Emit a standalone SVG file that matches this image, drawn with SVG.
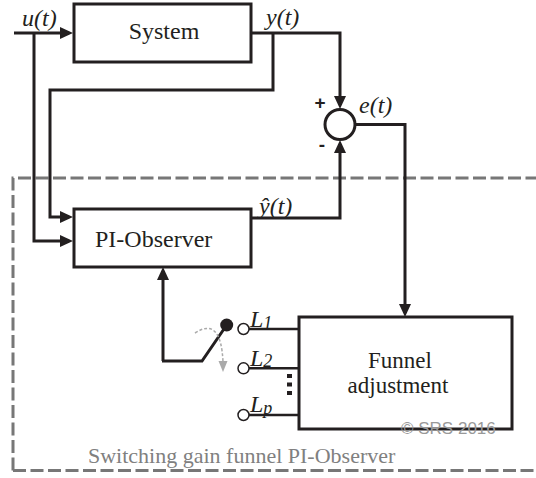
<svg xmlns="http://www.w3.org/2000/svg" width="536" height="478" viewBox="0 0 536 478">
<style>
.box{fill:#fff;stroke:#231f20;stroke-width:3}
.ln{fill:none;stroke:#231f20;stroke-width:3}
.thin{fill:none;stroke:#231f20;stroke-width:2.5}
.t{font-family:"Liberation Serif","Times New Roman",serif;fill:#231f20}
.it{font-family:"Liberation Serif","Times New Roman",serif;font-style:italic;fill:#231f20}
.sg{font-family:"Liberation Sans",Arial,sans-serif;font-weight:bold;fill:#231f20}
.term{fill:#fff;stroke:#231f20;stroke-width:1.5}
</style>
<defs>
<marker id="ah" markerWidth="13" markerHeight="12" refX="9" refY="6" orient="auto" markerUnits="userSpaceOnUse"><path d="M0,0 L13,6 L0,12 Z" fill="#231f20"/></marker>
</defs>
<g id="frame">
<path d="M13,470.5 V178 H540 M13,470.5 H540" fill="none" stroke="#777" stroke-width="3" stroke-dasharray="13,4.5"/>
<text x="88" y="463" class="t" font-size="22" style="fill:#808080">Switching gain funnel PI-Observer</text>
</g>
<g id="connectors">
<path class="ln" d="M14,33 H69" marker-end="url(#ah)"/>
<path class="ln" d="M34,33 V241 H69" marker-end="url(#ah)"/>
<path class="ln" d="M251,33 H340 V105" marker-end="url(#ah)"/>
<path class="ln" d="M273,33 V90 H50 V217 H69" marker-end="url(#ah)"/>
<path class="ln" d="M251,218 H340 V144" marker-end="url(#ah)"/>
<path class="ln" d="M355,124.5 H405 V313" marker-end="url(#ah)"/>
<path class="ln" d="M163,361 V271" marker-end="url(#ah)"/>
<path class="ln" d="M162,361 H202 L226.7,325"/>
<circle cx="226.7" cy="325" r="6.5" fill="#231f20"/>
<path class="thin" d="M249,329 H299 M249,368.3 H299 M249,415 H299"/>
<path d="M195,333 Q221,316 223,362" fill="none" stroke="#aaa" stroke-width="1.5" stroke-dasharray="3,2"/>
<polygon points="218.5,361 227.5,361 223,372" fill="#aaa"/>
<rect x="287" y="374" width="5" height="4" fill="#231f20"/>
<rect x="287" y="382.5" width="5" height="4" fill="#231f20"/>
<rect x="287" y="391" width="5" height="4" fill="#231f20"/>
</g>
<g id="system">
<rect class="box" x="74" y="4" width="177" height="58"/>
<text x="164" y="39" class="t" font-size="24" text-anchor="middle">System</text>
</g>
<g id="sum">
<circle cx="340" cy="124.5" r="15" fill="#fff" stroke="#231f20" stroke-width="3"/>
<text x="320" y="109" class="sg" font-size="19" text-anchor="middle">+</text>
<text x="322" y="151" class="sg" font-size="19" text-anchor="middle">-</text>
</g>
<g id="pi-observer">
<rect class="box" x="74" y="209" width="177" height="58"/>
<text x="95" y="247" class="t" font-size="24">PI-Observer</text>
</g>
<g id="funnel">
<rect class="box" x="299" y="317" width="213" height="112"/>
<text x="400" y="367.5" class="t" font-size="23" text-anchor="middle">Funnel</text>
<text x="398" y="393" class="t" font-size="23" text-anchor="middle">adjustment</text>
</g>
<g id="terminals">
<circle class="term" cx="243.5" cy="329" r="5.5"/>
<circle class="term" cx="243.5" cy="368.3" r="5.5"/>
<circle class="term" cx="243.5" cy="415" r="5.5"/>
<text x="250" y="327" class="it" font-size="24">L<tspan font-size="18" dy="2">1</tspan></text>
<text x="250" y="366" class="it" font-size="24">L<tspan font-size="18" dy="1">2</tspan></text>
<text x="250" y="412" class="it" font-size="24">L<tspan font-size="18" dy="2">p</tspan></text>
</g>
<g id="labels">
<text x="22" y="26" class="it" font-size="24">u(t)</text>
<text x="266" y="25" class="it" font-size="24">y(t)</text>
<text x="359" y="113" class="it" font-size="24">e(t)</text>
<text x="259" y="214" class="it" font-size="24">ŷ(t)</text>
<text x="401" y="434" font-family="Liberation Sans,Arial,sans-serif" font-size="17" fill="#999">© SRS 2016</text>
</g>
</svg>
